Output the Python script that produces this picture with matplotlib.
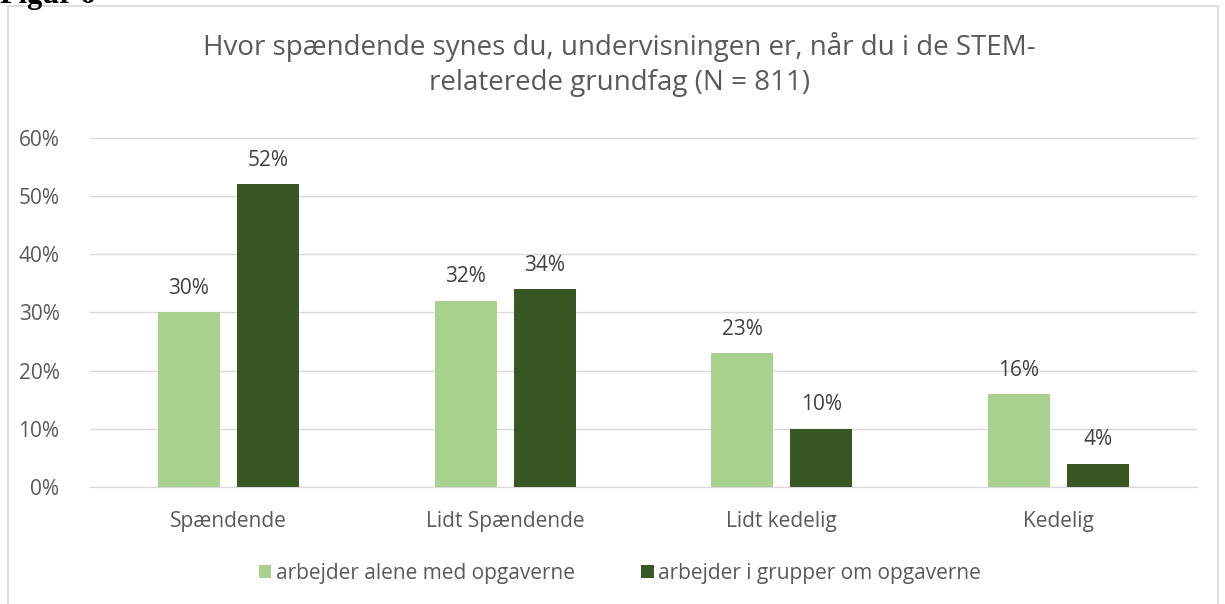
import numpy as np
import matplotlib.pyplot as plt
from matplotlib.patches import Rectangle

plt.rcParams.update({
    "font.family": ["Open Sans", "DejaVu Sans"],
    "font.size": 15,
})

categories = ["Spændende", "Lidt Spændende", "Lidt kedelig", "Kedelig"]
alene = [30, 32, 23, 16]
grupper = [52, 34, 10, 4]
series_names = ["arbejder alene med opgaverne", "arbejder i grupper om opgaverne"]
yticks = [0, 10, 20, 30, 40, 50, 60]

c_light = "#A9D18E"
c_dark = "#385723"
c_text = "#595959"
c_label = "#404040"
c_grid = "#D9D9D9"

fig = plt.figure(figsize=(12.25, 6.04), dpi=100)
ax = fig.add_axes([0.0735, 0.1937, 0.9035, 0.578])

x = np.arange(len(categories))
w = 0.224
gap = 0.061
off = (w + gap) / 2

ax.bar(x - off, alene, w, color=c_light, label=series_names[0], zorder=3)
ax.bar(x + off, grupper, w, color=c_dark, label=series_names[1], zorder=3)

for xi, v in zip(x - off, alene):
    ax.text(xi, v + 2.3, f"{v}%", ha="center", va="bottom", color=c_label, fontsize=15)
for xi, v in zip(x + off, grupper):
    ax.text(xi, v + 2.3, f"{v}%", ha="center", va="bottom", color=c_label, fontsize=15)

ax.set_xlim(-0.5, len(categories) - 0.5)
ax.set_ylim(0, 60)
ax.set_yticks(yticks)
ax.set_yticklabels([f"{t}%" for t in yticks])
ax.set_xticks(x)
ax.set_xticklabels(categories)
ax.tick_params(axis="both", length=0, colors=c_text, labelsize=15)
ax.tick_params(axis="y", pad=22)
ax.tick_params(axis="x", pad=17)
ax.grid(axis="y", color=c_grid, lw=1.0, zorder=0)
for s in ["top", "right", "left"]:
    ax.spines[s].set_visible(False)
ax.spines["bottom"].set_color(c_grid)

fig.text(0.506, 0.922, "Hvor spændende synes du, undervisningen er, når du i de STEM-",
         ha="center", va="center", fontsize=20, color=c_text)
fig.text(0.506, 0.862, "relaterede grundfag (N = 811)",
         ha="center", va="center", fontsize=20, color=c_text)

fig.legend(loc="center", bbox_to_anchor=(0.506, 0.051), ncol=2, frameon=False,
           fontsize=15, labelcolor=c_text, handlelength=0.6, handleheight=0.6,
           handletextpad=0.2, columnspacing=3.2)

fig.patches.append(Rectangle((8 / 1225, -0.05), 1210 / 1225, 1.04, transform=fig.transFigure,
                             fill=False, edgecolor="#D9D9D9", lw=1.2))

# caption above the chart, cut off by the top edge as in the source
fig.text(0.0, 0.995, "Figur 6", ha="left", va="baseline", fontsize=22, fontweight="bold",
         family=["Liberation Serif", "DejaVu Serif"], color="black")

fig.savefig("out.png", dpi=100)
